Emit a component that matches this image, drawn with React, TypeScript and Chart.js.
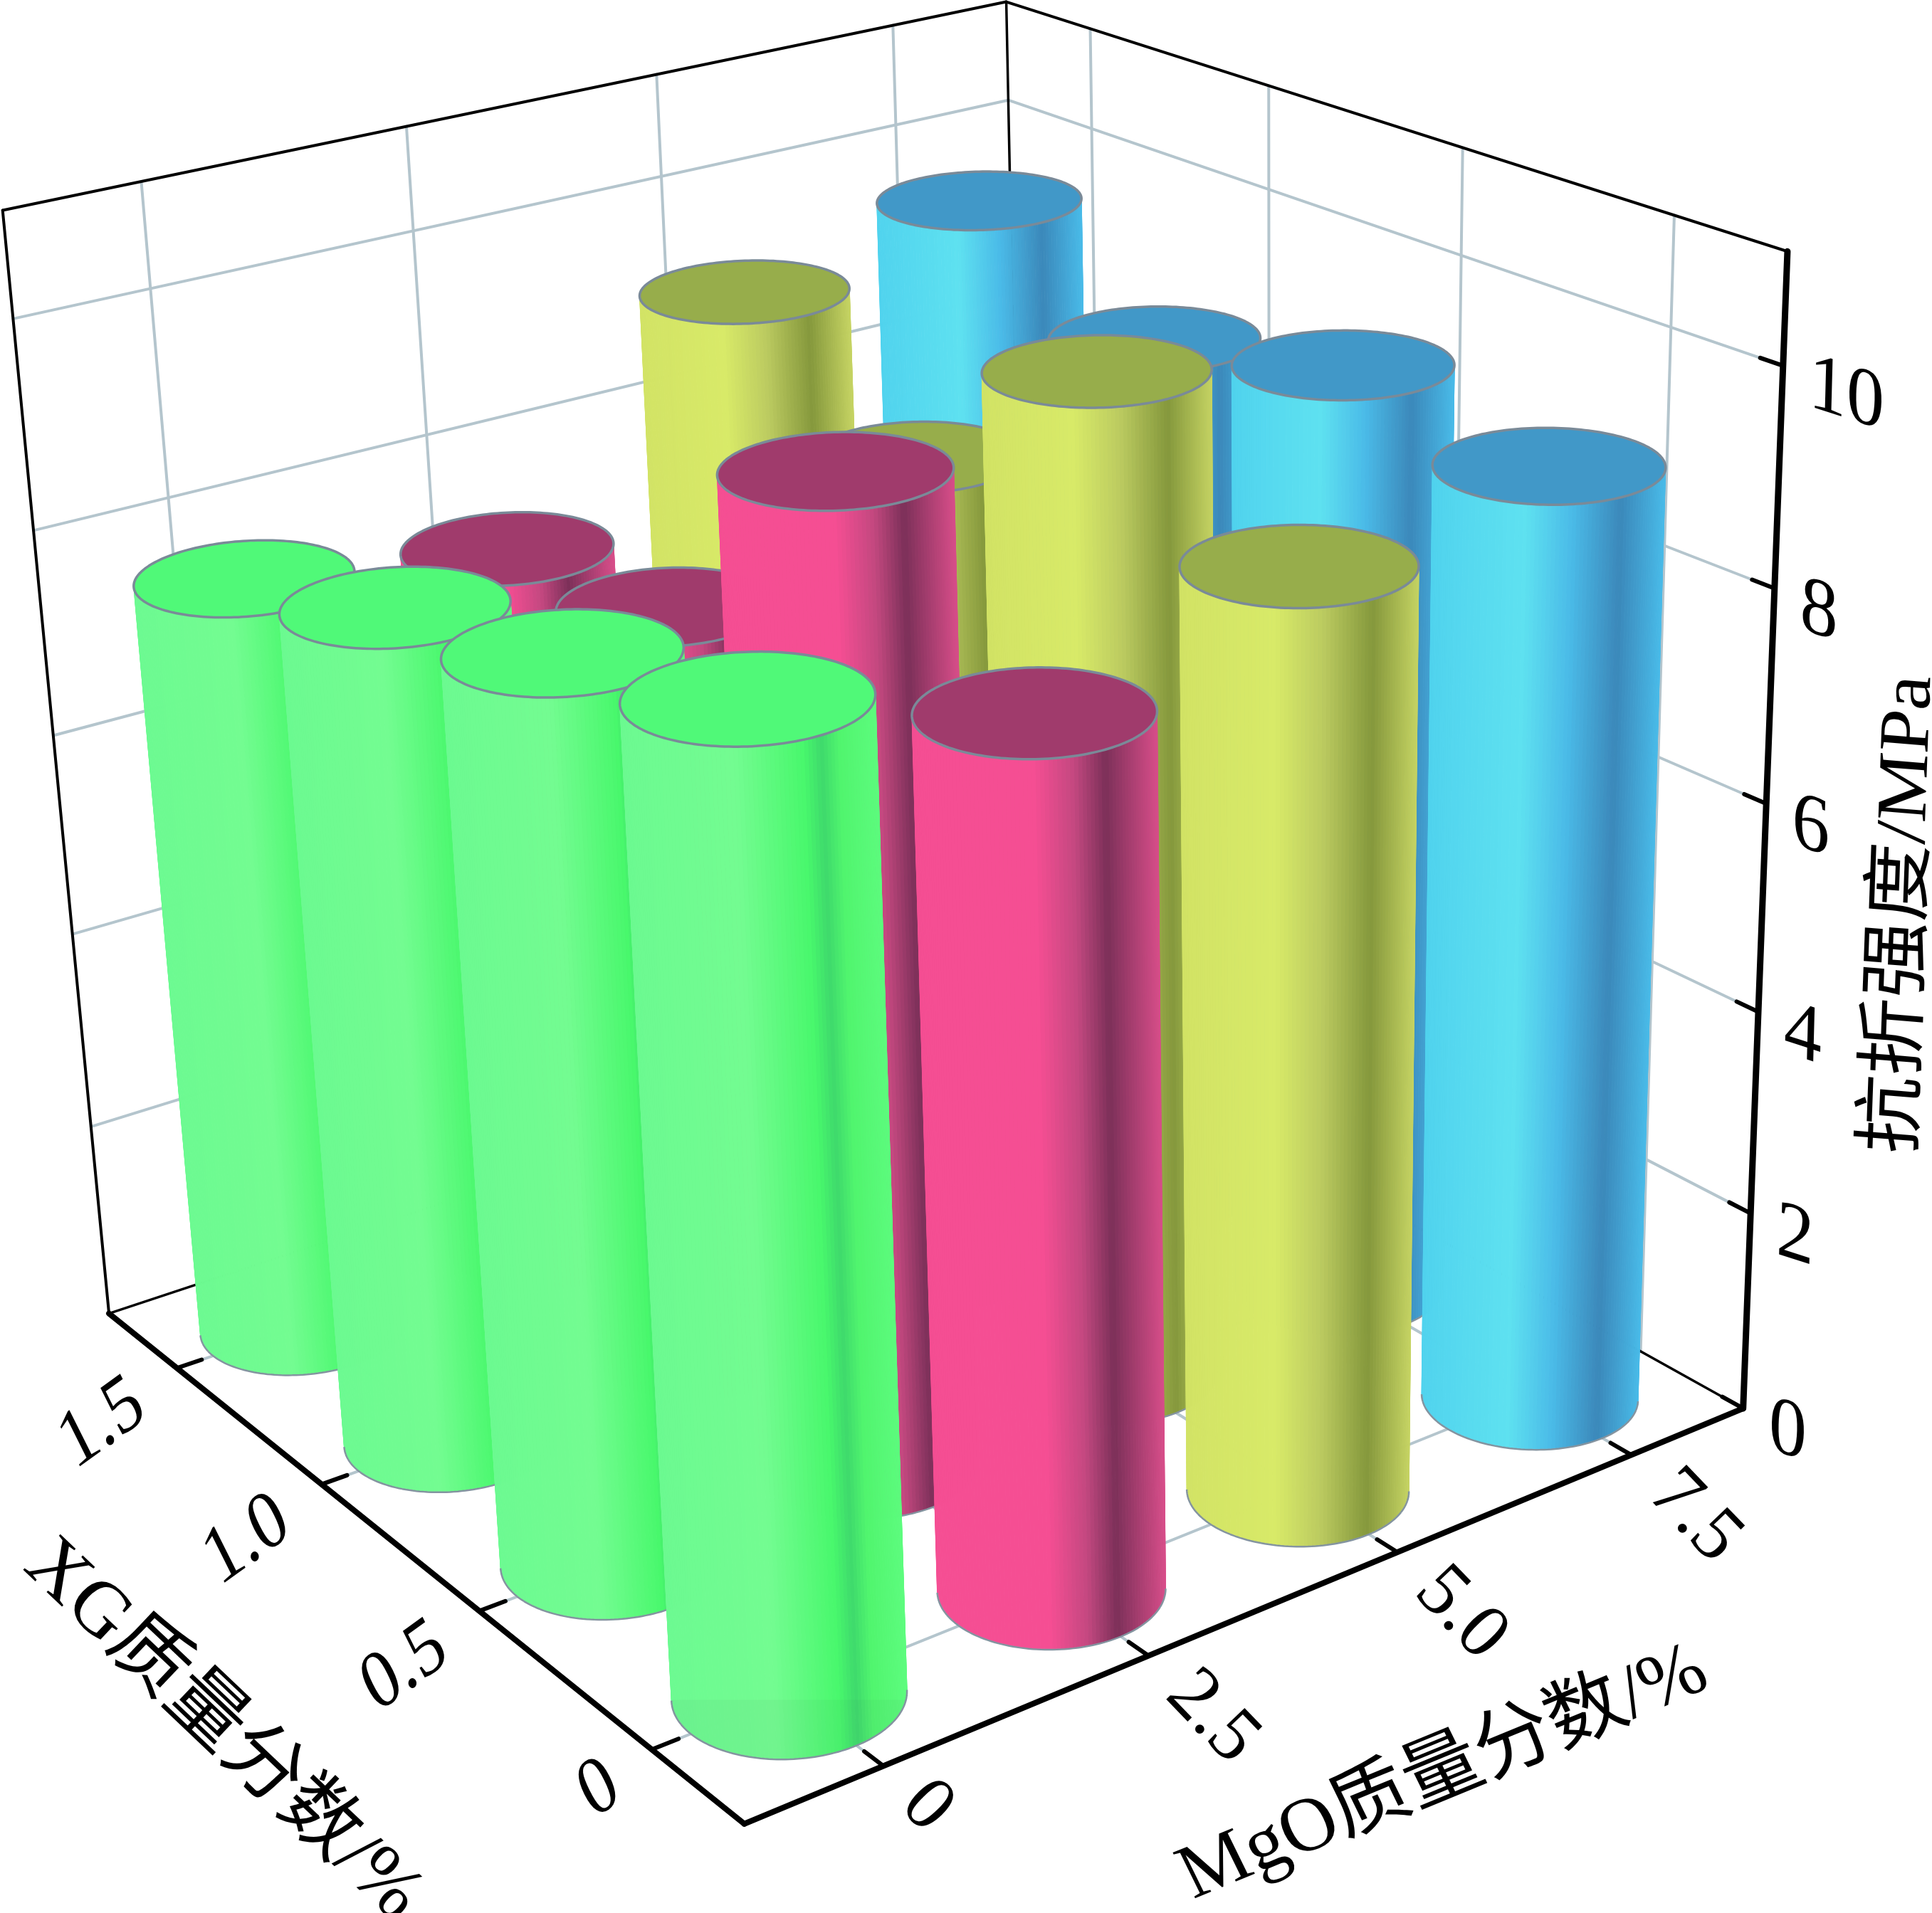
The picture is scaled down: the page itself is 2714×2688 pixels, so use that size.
import React, { useEffect, useRef } from "react";
import { Chart, registerables } from "chart.js";
Chart.register(...registerables);

const xgLevels = [0, 0.5, 1.0, 1.5];
const mgoLevels = [0, 2.5, 5.0, 7.5];
const strengthMgO0 = [9.0, 8.55, 8.14, 7.61];
const strengthMgO25 = [8.18, 9.5, 7.48, 7.25];
const strengthMgO50 = [8.79, 9.79, 8.27, 9.18];
const strengthMgO75 = [9.05, 9.26, 8.82, 9.54];
const zTicks = [0, 2, 4, 6, 8, 10];

const X0 = -1.25, X1 = 8.75, Y0 = -0.25, Y1 = 1.75, ZM = 11;
const calib: number[][] = [
  [X0,Y0,0,1046,2563],[0,Y0,0,1237,2482],[2.5,Y0,0,1610,2329],[5,Y0,0,1962,2180],[7.5,Y0,0,2291,2045],[X1,Y0,0,2452,1982],
  [X0,0,0,918,2458],[X0,0.5,0,678,2264],[X0,1,0,456,2088],[X0,1.5,0,247,1919],[X0,Y1,0,151,1845],
  [X1,Y0,2,2458,1703],[X1,Y0,4,2469,1419],[X1,Y0,6,2480,1127],[X1,Y0,8,2492,826],[X1,Y0,10,2504,515],[X1,Y0,ZM,2514,352],
  [X0,Y1,ZM,3,295],[X1,Y1,ZM,1414,2],[X1,Y1,10,1416,140],
  [0,Y1,ZM,198,255],[2.5,Y1,ZM,570,177],[5,Y1,ZM,922,105],[7.5,Y1,ZM,1254,37],[X1,1.5,ZM,1533,41],[X1,1,ZM,1783,123],
];

function solveCamera(): number[] {
  const n = 11;
  const A: number[][] = Array.from({ length: n }, () => new Array(n + 1).fill(0));
  const add = (r: number[], b: number) => {
    for (let i = 0; i < n; i++) {
      for (let j = 0; j < n; j++) A[i][j] += r[i] * r[j];
      A[i][n] += r[i] * b;
    }
  };
  for (const [X, Y, Z, u0, v0] of calib) {
    const x = X / 10, y = Y / 2, z = Z / 10, u = u0 / 1000, v = v0 / 1000;
    add([x, y, z, 1, 0, 0, 0, 0, -u * x, -u * y, -u * z], u);
    add([0, 0, 0, 0, x, y, z, 1, -v * x, -v * y, -v * z], v);
  }
  for (let c = 0; c < n; c++) {
    let p = c;
    for (let r = c + 1; r < n; r++) if (Math.abs(A[r][c]) > Math.abs(A[p][c])) p = r;
    [A[c], A[p]] = [A[p], A[c]];
    for (let r = 0; r < n; r++) {
      if (r === c) continue;
      const f = A[r][c] / A[c][c];
      for (let k = c; k <= n; k++) A[r][k] -= f * A[c][k];
    }
  }
  return A.map((row, i) => row[n] / row[i]);
}
const P = solveCamera();
const project = (X: number, Y: number, Z: number): [number, number] => {
  const x = X / 10, y = Y / 2, z = Z / 10;
  const w = P[8] * x + P[9] * y + P[10] * z + 1;
  return [(1000 * (P[0] * x + P[1] * y + P[2] * z + P[3])) / w, (1000 * (P[4] * x + P[5] * y + P[6] * z + P[7])) / w];
};

type Ramp = [number, number[]][];
const ramps: { side: Ramp; top: string }[] = [
  { top: "#50F978", side: [[0, [108,250,145]], [0.45, [115,252,145]], [0.72, [72,248,108]], [0.79, [62,218,108]], [0.86, [80,245,110]], [1, [92,252,125]]] },
  { top: "#A03B6C", side: [[0, [245,78,147]], [0.5, [245,78,147]], [0.66, [196,72,128]], [0.79, [124,48,89]], [1, [215,77,137]]] },
  { top: "#97AD4B", side: [[0, [210,227,101]], [0.4, [216,234,104]], [0.6, [188,203,96]], [0.81, [133,152,60]], [1, [197,211,98]]] },
  { top: "#4198C8", side: [[0, [80,211,238]], [0.4, [94,225,240]], [0.6, [74,187,232]], [0.81, [59,136,186]], [1, [72,186,232]]] },
];
const seriesValues = [strengthMgO0, strengthMgO25, strengthMgO50, strengthMgO75];
const shade = (r: Ramp, u: number) => {
  for (let i = 1; i < r.length; i++) {
    if (u <= r[i][0]) {
      const t = (u - r[i - 1][0]) / (r[i][0] - r[i - 1][0]);
      const c = r[i - 1][1].map((a, k) => Math.round(a + (r[i][1][k] - a) * t));
      return `rgb(${c[0]},${c[1]},${c[2]})`;
    }
  }
  const c = r[r.length - 1][1];
  return `rgb(${c[0]},${c[1]},${c[2]})`;
};

const BAR = 0.72;
const plugin = {
  id: "cyl3d",
  beforeDatasetsDraw(chart: any) {
    const ctx: CanvasRenderingContext2D = chart.ctx;
    const sx = (v: number) => chart.scales.x.getPixelForValue(v);
    const sy = (v: number) => chart.scales.y.getPixelForValue(v);
    const pp = (X: number, Y: number, Z: number): [number, number] => {
      const [a, b] = project(X, Y, Z);
      return [sx(a), sy(b)];
    };
    const line = (a: number[], b: number[], w: number, col: string) => {
      ctx.strokeStyle = col; ctx.lineWidth = w; ctx.lineCap = "round";
      ctx.beginPath(); ctx.moveTo(a[0], a[1]); ctx.lineTo(b[0], b[1]); ctx.stroke();
    };
    ctx.save();
    const grid = "#B4C5CD";
    const gw = 4;
    for (const m of mgoLevels) {
      line(pp(m, Y0, 0), pp(m, Y1, 0), gw, grid);
      line(pp(m, Y1, 0), pp(m, Y1, ZM), gw, grid);
    }
    for (const g of xgLevels) {
      line(pp(X0, g, 0), pp(X1, g, 0), gw, grid);
      line(pp(X1, g, 0), pp(X1, g, ZM), gw, grid);
    }
    for (const z of zTicks.slice(1)) {
      line(pp(X0, Y1, z), pp(X1, Y1, z), gw, grid);
      line(pp(X1, Y1, z), pp(X1, Y0, z), gw, grid);
    }
    const thin = "#000";
    line(pp(X0, Y1, 0), pp(X1, Y1, 0), 3.5, thin);
    line(pp(X1, Y1, 0), pp(X1, Y0, 0), 3.5, thin);
    line(pp(X1, Y1, 0), pp(X1, Y1, ZM), 3.5, thin);
    line(pp(X0, Y1, 0), pp(X0, Y1, ZM), 4, thin);
    line(pp(X0, Y1, ZM), pp(X1, Y1, ZM), 4, thin);
    line(pp(X1, Y1, ZM), pp(X1, Y0, ZM), 4, thin);

    // cylinders, back to front
    const N = 180;
    for (let mi = mgoLevels.length - 1; mi >= 0; mi--) {
      const ds = chart.data.datasets[mi];
      const ramp = ramps[mi].side;
      for (let gi = xgLevels.length - 1; gi >= 0; gi--) {
        const X = mgoLevels[mi], Y = xgLevels[gi], Z = ds.data[gi].value;
        const rx = 1.25 * BAR, ry = 0.25 * BAR;
        const bot: number[][] = [], top: number[][] = [];
        for (let i = 0; i <= N; i++) {
          const t = (i / N) * Math.PI * 2;
          const cx = X + rx * Math.cos(t), cy = Y + ry * Math.sin(t);
          bot.push(pp(cx, cy, 0)); top.push(pp(cx, cy, Z));
        }
        const minB = Math.min(...bot.map((p) => p[0])), maxB = Math.max(...bot.map((p) => p[0]));
        const minT = Math.min(...top.map((p) => p[0])), maxT = Math.max(...top.map((p) => p[0]));
        const arc: number[][][] = [];
        for (let i = 0; i < N; i++) {
          const q = [bot[i], bot[i + 1], top[i + 1], top[i]];
          let area = 0;
          for (let k = 0; k < 4; k++) {
            const a = q[k], b = q[(k + 1) % 4];
            area += a[0] * b[1] - b[0] * a[1];
          }
          if (area >= 0) continue;
          arc.push([bot[i], bot[i + 1]]);
          const u = 0.5 * (((bot[i][0] + bot[i + 1][0]) / 2 - minB) / (maxB - minB) + ((top[i][0] + top[i + 1][0]) / 2 - minT) / (maxT - minT));
          const col = shade(ramp, u);
          ctx.fillStyle = col; ctx.strokeStyle = col; ctx.lineWidth = 1;
          ctx.beginPath();
          q.forEach((p, k) => (k ? ctx.lineTo(p[0], p[1]) : ctx.moveTo(p[0], p[1])));
          ctx.closePath(); ctx.fill(); ctx.stroke();
        }
        if (mi === 0 && gi === 0) {
          const c = pp(X, Y, 0);
          ctx.fillStyle = "rgba(70,90,90,0.05)";
          ctx.beginPath();
          ctx.rect(minB - 2, c[1] + 8, maxB - minB + 4, 400);
          ctx.save();
          ctx.clip();
          ctx.beginPath();
          bot.forEach((p, k) => (k ? ctx.lineTo(p[0], p[1]) : ctx.moveTo(p[0], p[1])));
          ctx.closePath();
          ctx.fill();
          ctx.restore();
        }
        ctx.strokeStyle = "#8494A0"; ctx.lineWidth = 2.5; ctx.lineCap = "butt";
        ctx.beginPath();
        for (const seg of arc) { ctx.moveTo(seg[0][0], seg[0][1]); ctx.lineTo(seg[1][0], seg[1][1]); }
        ctx.stroke();
        ctx.fillStyle = ramps[mi].top; ctx.strokeStyle = "#7A8A98"; ctx.lineWidth = 3.5; ctx.lineJoin = "round";
        ctx.beginPath();
        top.forEach((p, k) => (k ? ctx.lineTo(p[0], p[1]) : ctx.moveTo(p[0], p[1])));
        ctx.closePath(); ctx.fill(); ctx.stroke();
      }
    }

    // axes
    line(pp(X0, Y1, 0), pp(X0, Y0, 0), 8, "#000");
    line(pp(X0, Y0, 0), pp(X1, Y0, 0), 8, "#000");
    line(pp(X1, Y0, 0), pp(X1, Y0, ZM), 9, "#000");
    for (const g of xgLevels) line(pp(X0, g, 0), pp(X0 + 0.24, g, 0), 6, "#000");
    for (const m of mgoLevels) line(pp(m, Y0, 0), pp(m, Y0 + 0.05, 0), 6, "#000");
    for (const z of zTicks) line(pp(X1, Y0, z), pp(X1, Y0 + 0.05, z), 6, "#000");

    // text
    const FONT = '100px "Liberation Serif", "Noto Sans CJK SC"';
    const put = (s: string, x: number, y: number, r: number[], up: number[], align: CanvasTextAlign) => {
      ctx.save();
      ctx.transform(r[0], r[1], -up[0], -up[1], x, y);
      ctx.font = FONT; ctx.fillStyle = "#000"; ctx.textAlign = align; ctx.textBaseline = "middle";
      ctx.fillText(s, 0, 0);
      ctx.restore();
    };
    xgLevels.forEach((g, i) => {
      const [a, b] = pp(X0, g, 0);
      put(i === 0 ? "0" : g.toFixed(1), a - 53, b + 42, [0.83, -0.6], [-0.5, -1.0], "right");
    });
    mgoLevels.forEach((m, i) => {
      const [a, b] = pp(m, Y0, 0);
      put(i === 0 ? "0" : m.toFixed(1), a + 42, b + 38, [0.75, 0.78], [0.78, -0.75], "left");
    });
    zTicks.forEach((z) => {
      const [a, b] = pp(X1, Y0, z);
      put(String(z), a + 36, b + 26, [1.06, 0.34], [0.03, -1.15], "left");
    });
    put("XG质量分数/%", 313, 2432, [0.8, 0.76], [0.76, -0.8], "center");
    put("MgO质量分数/%", 2028, 2493, [1.01, -0.415], [-0.48, -0.98], "center");
    put("抗折强度/MPa", 2673, 1285, [0.04, -1.09], [-1.0, -0.08], "center");
    ctx.restore();
  },
};

export default function App() {
  const ref = useRef<HTMLCanvasElement>(null);
  useEffect(() => {
    document.body.style.margin = "0";
    const datasets = seriesValues.map((vals, mi) => ({
      label: `MgO ${mgoLevels[mi]}%`,
      pointRadius: 0,
      data: vals.map((value, gi) => {
        const [x, y] = project(mgoLevels[mi], xgLevels[gi], value);
        return { x, y, value };
      }),
    }));
    const chart = new Chart(ref.current!, {
      type: "scatter",
      data: { datasets },
      plugins: [plugin],
      options: {
        animation: false,
        responsive: false,
        layout: { padding: 0 },
        plugins: { legend: { display: false }, tooltip: { enabled: false } },
        scales: {
          x: { type: "linear", min: 0, max: 2714, display: false },
          y: { type: "linear", min: 0, max: 2688, reverse: true, display: false },
        },
      },
    } as any);
    return () => chart.destroy();
  }, []);
  return <canvas ref={ref} width={2714} height={2688} style={{ display: "block", background: "#fff" }} />;
}
